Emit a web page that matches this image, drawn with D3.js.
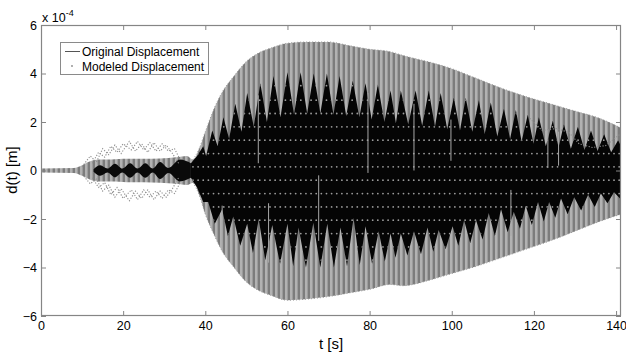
<!DOCTYPE html>
<html>
<head>
<meta charset="utf-8">
<script src="https://cdn.jsdelivr.net/npm/d3@7"></script>
<style>
  body { margin: 0; background: #fff; }
  svg { display: block; font-family: "Liberation Sans", Arial, sans-serif; }
  .tick text { font-size: 12.5px; fill: #000; }
</style>
</head>
<body>
<svg id="chart" width="626" height="352"></svg>
<script>
// values in units of 1e-4 m, time in s

// outer envelope of the original displacement
const outerT  = [0, 8, 10, 12, 14, 17, 21, 25, 29, 33, 35.5, 37, 38.5, 40, 42, 44, 47, 50, 53, 56, 60, 65, 70, 75, 80, 85, 88, 95, 100, 106, 112, 118, 124, 130, 136, 141.2];
const outerUp = [0.08, 0.1, 0.22, 0.38, 0.45, 0.45, 0.48, 0.48, 0.5, 0.55, 0.6, 0.45, 0.9, 1.6, 2.5, 3.2, 3.9, 4.5, 4.85, 5.05, 5.25, 5.3, 5.3, 5.15, 5.0, 4.9, 4.75, 4.45, 4.2, 3.8, 3.4, 3.05, 2.75, 2.45, 2.15, 1.75];
const outerLo = [-0.08, -0.1, -0.22, -0.38, -0.45, -0.45, -0.48, -0.48, -0.5, -0.55, -0.6, -0.5, -1.0, -1.8, -2.6, -3.3, -4.0, -4.6, -4.95, -5.15, -5.35, -5.3, -5.2, -5.05, -4.9, -4.7, -4.75, -4.5, -4.25, -3.95, -3.6, -3.25, -2.9, -2.5, -2.1, -1.8];

// dark core, upper edge (peaks and valleys)
const coreTopT = [36.5, 38.0, 39.5, 40.2, 41.7, 43.0, 44.4, 45.8, 47.3, 48.8, 50.2, 51.8, 53.4, 55.0, 56.6, 58.3, 60.0, 61.6, 63.2, 64.8, 66.4, 68.0, 69.6, 71.2, 72.7, 74.3, 75.9, 77.5, 79.0, 80.5, 82.0, 83.6, 85.1, 86.4, 87.6, 89.4, 91.2, 92.8, 94.4, 95.9, 97.3, 98.9, 100.5, 102.0, 103.4, 105.0, 106.6, 108.0, 109.5, 111.1, 112.7, 114.2, 115.6, 117.0, 118.5, 119.9, 121.2, 122.9, 124.6, 126.0, 127.3, 129.0, 130.7, 132.3, 133.9, 135.5, 137.1, 138.8, 140.5, 141.2];
const coreTopV = [0.3, 0.6, 1.0, 0.6, 1.65, 1.0, 2.2, 1.3, 2.75, 1.6, 3.2, 1.8, 3.6, 2.0, 3.9, 2.2, 4.05, 2.3, 4.05, 2.35, 4.0, 2.35, 4.0, 2.3, 3.9, 2.25, 3.7, 2.2, 3.6, 2.1, 3.55, 2.0, 3.3, 1.95, 3.3, 1.9, 3.3, 1.85, 3.3, 1.8, 3.2, 1.7, 3.0, 1.65, 3.0, 1.6, 2.9, 1.5, 2.8, 1.4, 2.55, 1.3, 2.5, 1.2, 2.3, 1.1, 2.2, 1.0, 2.05, 0.95, 1.9, 0.9, 1.8, 0.85, 1.65, 0.8, 1.5, 0.75, 1.25, 1.0];

// dark core, lower edge (tips of light spikes and lows)
const coreBotT = [36.5, 38.0, 39.5, 40.7, 42.3, 44.1, 45.5, 46.8, 48.5, 50.2, 51.6, 53.0, 54.6, 56.3, 58.2, 60.0, 61.4, 62.7, 64.5, 66.3, 68.0, 69.7, 71.3, 72.9, 74.5, 76.1, 77.6, 79.0, 80.6, 82.2, 83.7, 85.1, 86.3, 87.6, 89.2, 90.8, 92.5, 94.1, 95.5, 96.8, 98.5, 100.2, 101.6, 103.0, 104.5, 105.9, 107.5, 109.0, 110.5, 112.0, 113.6, 115.1, 116.6, 118.0, 119.5, 121.0, 122.4, 123.7, 125.2, 126.6, 128.2, 129.8, 131.5, 133.2, 134.8, 136.3, 137.9, 139.5, 141.2];
const coreBotV = [-0.3, -0.7, -1.3, -1.3, -2.2, -1.6, -2.7, -1.9, -3.1, -2.2, -3.4, -2.0, -3.7, -2.25, -3.85, -2.2, -3.95, -2.35, -4.0, -2.15, -4.0, -2.2, -4.0, -2.35, -3.95, -1.95, -3.9, -2.3, -3.85, -2.5, -3.75, -2.6, -3.6, -2.6, -3.5, -2.5, -3.45, -2.35, -3.35, -2.45, -3.25, -2.3, -3.1, -2.05, -3.0, -2.05, -2.85, -1.75, -2.7, -1.6, -2.55, -1.7, -2.4, -1.45, -2.25, -1.3, -2.1, -1.3, -1.95, -1.15, -1.8, -1.1, -1.65, -1.0, -1.5, -0.95, -1.35, -0.9, -1.2];

// early small beats
const earlyT = [12.8, 14.4, 16.2, 18.0, 19.8, 21.7, 23.5, 25.4, 27.2, 29.0, 31.0, 33.8, 36.5];
const earlyV = [0.05, 0.22, 0.08, 0.28, 0.08, 0.3, 0.08, 0.3, 0.08, 0.35, 0.1, 0.45, 0.3];

// thin light streaks inside the core: time, from, to
const streakT    = [44.1, 52.9, 55.4, 67.6, 79.6, 90.8, 99.8, 114.4, 123.4, 126.0];
const streakFrom = [-1.45, 0.3, -1.35, -0.2, -0.1, 0.0, 0.4, -0.8, 0.1, 0.2];
const streakTo   = [-3.3, 3.1, -3.8, -2.9, 3.2, 2.75, 2.1, -2.7, 1.7, 1.6];

// modeled displacement samples
const modeledT = [37, 38.25, 39.5, 40.75, 42, 43.25, 44.5, 45.75, 47, 48.25, 49.5, 50.75, 52, 53.25, 54.5, 55.75, 57, 58.25, 59.5, 60.75, 62, 63.25, 64.5, 65.75, 67, 68.25, 69.5, 70.75, 72, 73.25, 74.5, 75.75, 77, 78.25, 79.5, 80.75, 82, 83.25, 84.5, 85.75, 87, 88.25, 89.5, 90.75, 92, 93.25, 94.5, 95.75, 97, 98.25, 99.5, 100.75, 102, 103.25, 104.5, 105.75, 107, 108.25, 109.5, 110.75, 112, 113.25, 114.5, 115.75, 117, 118.25, 119.5, 120.75, 122, 123.25, 124.5, 125.75, 127, 128.25, 129.5, 130.75, 132, 133.25, 134.5, 135.75, 137, 138.25, 139.5, 140.75];
const modeledLevels = [3.5, 2.9, 2.35, 1.8, 1.25, 0.7, 0.15, -0.4, -0.95, -1.5, -2.05, -2.6, -3.15, -3.7];

// modeled early zigzags (t, v)
const zigA = [[10, 0.15], [12, 0.6], [13.5, 0.35], [15, 0.9], [16.5, 0.65], [18, 1.05], [19.5, 0.7], [21.5, 1.2], [23, 0.8], [24.5, 1.1], [26, 0.75], [27.5, 1.15], [29, 0.8], [30.5, 1.05], [32, 0.7], [33.5, 0.3]];
const zigB = [[12.5, 0.3], [14, 0.75], [15.5, 0.55], [17, 1.0], [18.5, 0.75], [20, 1.1], [22, 0.85], [23.5, 1.2], [25, 0.85], [26.5, 1.15], [28, 0.8], [29.5, 1.1], [31, 0.8], [32.5, 0.9], [34, 0.4]];
const zigC = [[10, -0.15], [12, -0.55], [13.5, -0.35], [15, -0.85], [16.5, -0.6], [18, -1.1], [19.5, -0.75], [21.5, -1.25], [23, -0.85], [24.5, -1.15], [26, -0.8], [27.5, -1.2], [29, -0.85], [30.5, -1.1], [32, -0.75], [33.5, -0.3]];
const zigD = [[12.5, -0.3], [14, -0.7], [15.5, -0.5], [17, -1.0], [18.5, -0.7], [20, -1.15], [22, -0.8], [23.5, -1.2], [25, -0.8], [26.5, -1.1], [28, -0.85], [29.5, -1.15], [31, -0.8], [32.5, -0.95], [34, -0.45]];
const waveR = [[119, 2.15], [122, 1.65], [125.5, 1.73], [128.5, 1.57], [131, 1.1], [134.2, 0.95], [137.5, 1.03], [141, 1.5]];

const xTicks = [0, 20, 40, 60, 80, 100, 120, 140];
const yTicks = [-6, -4, -2, 0, 2, 4, 6];
const legendLabels = ["Original Displacement", "Modeled Displacement"];

const svg = d3.select("#chart");
const m = {left: 41, right: 621, top: 25, bottom: 316};
const x = d3.scaleLinear().domain([0, 141.2]).range([m.left, m.right]);
const y = d3.scaleLinear().domain([-6, 6]).range([m.bottom, m.top]);

const defs = svg.append("defs");
const pat = defs.append("pattern").attr("id", "comb")
  .attr("patternUnits", "userSpaceOnUse").attr("width", 5).attr("height", 10);
pat.append("rect").attr("width", 5).attr("height", 10).attr("fill", "#7c7c7c");
pat.append("rect").attr("width", 2.6).attr("height", 10).attr("fill", "#b2b2b2");

defs.append("clipPath").attr("id", "plotClip").append("rect")
  .attr("x", m.left).attr("y", m.top).attr("width", m.right - m.left).attr("height", m.bottom - m.top);

const plot = svg.append("g").attr("clip-path", "url(#plotClip)");

// outer band
const outerArea = d3.area()
  .x((d, i) => x(outerT[i])).y0((d, i) => y(outerLo[i])).y1((d, i) => y(outerUp[i]))
  .curve(d3.curveMonotoneX);
plot.append("path").datum(outerT).attr("d", outerArea).attr("fill", "url(#comb)");

// dotted rim of the outer band
const rim = d3.line().x(d => x(d[0])).y(d => y(d[1])).curve(d3.curveMonotoneX);
for (const edge of [outerUp, outerLo]) {
  plot.append("path").datum(outerT.map((t, i) => [t, edge[i]]).filter(d => d[0] > 36))
    .attr("d", rim).attr("fill", "none").attr("stroke", "#9a9a9a").attr("stroke-width", 1)
    .attr("stroke-dasharray", "1 2");
}

// early beats
const earlyArea = d3.area()
  .x((d, i) => x(earlyT[i])).y0((d, i) => y(-earlyV[i])).y1((d, i) => y(earlyV[i]))
  .curve(d3.curveMonotoneX);
plot.append("path").datum(earlyT).attr("d", earlyArea).attr("fill", "#0a0a0a");

// main dark core
const coreTop = coreTopT.map((t, i) => [t, coreTopV[i]]);
const coreBot = coreBotT.map((t, i) => [t, coreBotV[i]]);
const coreLine = d3.line().x(d => x(d[0])).y(d => y(d[1]));
const corePath = coreLine(coreTop.concat(coreBot.slice().reverse())) + "Z";
plot.append("path").attr("d", corePath).attr("fill", "#050505");
defs.append("clipPath").attr("id", "coreClip").append("path").attr("d", corePath);

// modeled samples inside the core
const dots = [];
modeledLevels.forEach(v => modeledT.forEach(t => dots.push([t, v])));
plot.append("g").attr("clip-path", "url(#coreClip)")
  .selectAll("circle").data(dots).join("circle")
  .attr("cx", d => x(d[0])).attr("cy", d => y(d[1])).attr("r", 0.9)
  .attr("fill", "#9c9c9c");

// streaks
plot.selectAll(".streak").data(streakT).join("line").attr("class", "streak")
  .attr("x1", d => x(d)).attr("x2", d => x(d))
  .attr("y1", (d, i) => y(streakFrom[i])).attr("y2", (d, i) => y(streakTo[i]))
  .attr("stroke", "#a8a8a8").attr("stroke-width", 1);

// modeled zigzags
const zig = d3.line().x(d => x(d[0])).y(d => y(d[1]));
for (const z of [zigA, zigB, zigC, zigD, waveR]) {
  plot.append("path").datum(z).attr("d", zig).attr("fill", "none")
    .attr("stroke", "#8e8e8e").attr("stroke-width", 1.1).attr("stroke-dasharray", "1.2 1.6");
}

// axes
const axisColor = "#858585";
function styleAxis(g) {
  g.select(".domain").remove();
  g.selectAll(".tick line").attr("stroke", axisColor);
}
svg.append("g").attr("transform", `translate(0,${m.bottom})`)
  .call(d3.axisBottom(x).tickValues(xTicks).tickSize(-5).tickPadding(5).tickFormat(d3.format("d")))
  .call(styleAxis);
svg.append("g").attr("transform", `translate(0,${m.top})`)
  .call(d3.axisTop(x).tickValues(xTicks).tickSize(-5).tickFormat(""))
  .call(styleAxis);
svg.append("g").attr("transform", `translate(${m.left},0)`)
  .call(d3.axisLeft(y).tickValues(yTicks).tickSize(-5).tickPadding(4).tickFormat(d3.format("d")))
  .call(styleAxis);
svg.append("g").attr("transform", `translate(${m.right},0)`)
  .call(d3.axisRight(y).tickValues(yTicks).tickSize(-5).tickFormat(""))
  .call(styleAxis);
svg.selectAll(".tick text").attr("font-family", "Liberation Sans, Arial, sans-serif");

svg.append("rect").attr("x", m.left + 0.5).attr("y", m.top + 0.5)
  .attr("width", m.right - m.left - 1).attr("height", m.bottom - m.top - 1)
  .attr("fill", "none").attr("stroke", axisColor).attr("stroke-width", 1.2);

// exponent
const ex = svg.append("text").attr("x", 42).attr("y", 22).attr("font-size", 12.5);
ex.append("tspan").text("x 10");
ex.append("tspan").attr("dy", -6).attr("font-size", 9).text("-4");

// axis labels
svg.append("text").attr("x", 331).attr("y", 349).attr("text-anchor", "middle")
  .attr("font-size", 15).text("t [s]");
svg.append("text").attr("transform", "translate(17,170) rotate(-90)")
  .attr("text-anchor", "middle").attr("font-size", 15).text("d(t) [m]");

// legend
const lg = svg.append("g");
lg.append("rect").attr("x", 60.5).attr("y", 42.5).attr("width", 148).attr("height", 32)
  .attr("fill", "#fff").attr("stroke", "#8a8a8a");
lg.append("line").attr("x1", 65).attr("x2", 80).attr("y1", 51.5).attr("y2", 51.5)
  .attr("stroke", "#555").attr("stroke-width", 1);
lg.append("circle").attr("cx", 72).attr("cy", 66).attr("r", 0.9).attr("fill", "#8a8a8a");
lg.selectAll(".lt").data(legendLabels).join("text").attr("class", "lt")
  .attr("x", 82).attr("y", (d, i) => 56 + i * 14.5).attr("font-size", 12).text(d => d);
</script>
</body>
</html>
